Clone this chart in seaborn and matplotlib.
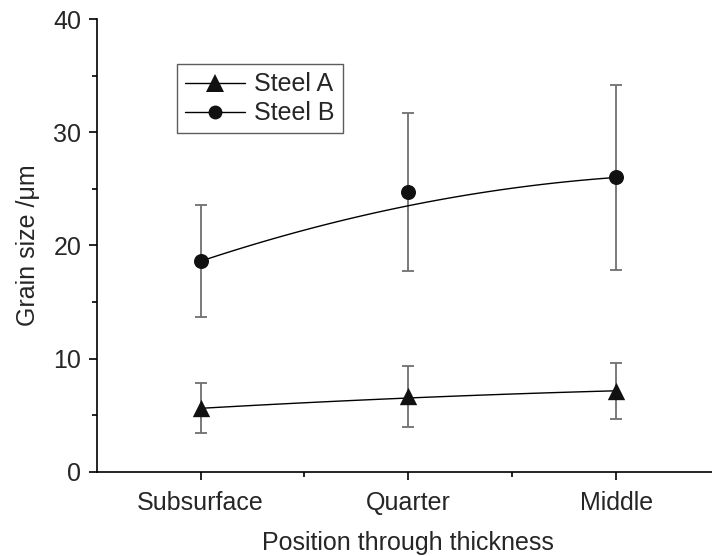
import numpy as np
import pandas as pd
import matplotlib
matplotlib.use("Agg")
import matplotlib.pyplot as plt
from matplotlib.lines import Line2D
import seaborn as sns

categories = ["Subsurface", "Quarter", "Middle"]
steel_a = [5.6, 6.65, 7.15]
steel_a_err = [2.2, 2.7, 2.45]
steel_b = [18.6, 24.7, 26.0]
steel_b_err = [4.95, 7.0, 8.15]
yticks = [0, 10, 20, 30, 40]

sns.set_style("ticks")
plt.rcParams['font.family'] = ['Liberation Sans', 'DejaVu Sans']

FS = 18
fig = plt.figure(figsize=(7.12, 5.56), dpi=100)
ax = fig.add_axes([0.1358, 0.1516, 0.8754, 0.8142])

x = np.arange(len(categories))

def bezier(xs, ys, n=100):
    t = np.linspace(0, 1, n)
    bx = (1 - t) ** 2 * xs[0] + 2 * t * (1 - t) * xs[1] + t ** 2 * xs[2]
    by = (1 - t) ** 2 * ys[0] + 2 * t * (1 - t) * ys[1] + t ** 2 * ys[2]
    return bx, by

for vals, errs, marker, ms in [(steel_a, steel_a_err, "^", 12.5), (steel_b, steel_b_err, "o", 10.8)]:
    bx, by = bezier(x, vals)
    ax.errorbar(x, vals, yerr=errs, fmt="none", ecolor="#707070", elinewidth=1.3,
                capsize=4, capthick=1.3, zorder=2)
    sns.lineplot(x=bx, y=by, ax=ax, color="black", linewidth=1.0, sort=False,
                 estimator=None, zorder=3)
    df = pd.DataFrame({"x": x, "y": vals})
    sns.scatterplot(data=df, x="x", y="y", ax=ax, marker=marker, s=ms ** 2,
                    color="#111111", edgecolor="#111111", linewidth=0, zorder=4)

ax.set_xlim(-0.5, 2.5)
ax.set_ylim(0, 40)
ax.set_xticks(x)
ax.set_xticklabels(categories, fontsize=FS)
ax.set_xticks([0.5, 1.5], minor=True)
ax.set_yticks(yticks)
ax.set_yticklabels([str(v) for v in yticks], fontsize=FS)
ax.set_yticks([5, 15, 25, 35], minor=True)
ax.tick_params(axis="both", which="major", length=6, width=1.2, color="black", pad=5)
ax.tick_params(axis="x", which="major", pad=8)
ax.tick_params(axis="both", which="minor", length=3.5, width=1.2, color="black")
ax.set_xlabel("Position through thickness", fontsize=FS, labelpad=11.5)
ax.set_ylabel("Grain size /μm", fontsize=FS, labelpad=10)
for s in ["top", "right"]:
    ax.spines[s].set_visible(False)
for s in ["left", "bottom"]:
    ax.spines[s].set_linewidth(1.2)
    ax.spines[s].set_color("black")

handles = [
    Line2D([], [], color="black", linewidth=1.0, marker="^", markersize=13,
           markerfacecolor="#111111", markeredgewidth=0),
    Line2D([], [], color="black", linewidth=1.0, marker="o", markersize=10,
           markerfacecolor="#111111", markeredgewidth=0),
]
leg = ax.legend(handles, ["Steel A", "Steel B"], loc="upper left",
                bbox_to_anchor=(177.3 / 712, 1 - 64.3 / 556), bbox_transform=fig.transFigure,
                fontsize=FS, frameon=True, fancybox=False, edgecolor="#333333",
                handlelength=2.4, handletextpad=0.35, borderpad=0.32, labelspacing=0.2,
                borderaxespad=0)
leg.get_frame().set_linewidth(1.0)

fig.savefig("out.png", dpi=100)
